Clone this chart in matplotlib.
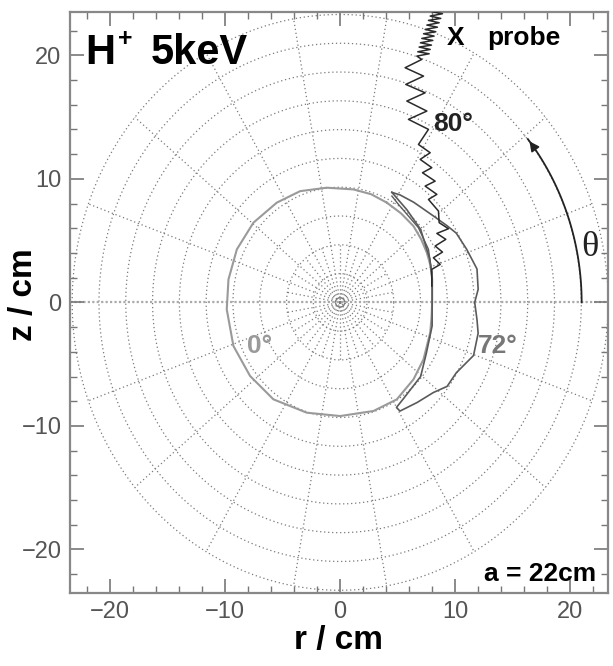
import numpy as np
import matplotlib.pyplot as plt

plt.rcParams['font.family'] = ['Liberation Sans', 'DejaVu Sans']

# --- orbit data (r, z in cm) ---
# 0 deg launch: nearly circular orbit
orbit0_r = [4.06, 5.3, 6.38, 7.05, 7.54, 7.85, 8.0, 8.0, 7.95, 7.83, 7.25, 6.38,
            4.93, 2.9, 0.0, -2.9, -5.8, -7.83, -9.28, -9.86, -9.71, -8.98,
            -7.54, -5.51, -3.48, -1.16, 1.16, 2.7, 4.06]
orbit0_z = [8.07, 7.2, 6.17, 5.1, 4.02, 3.0, 1.9, 0.0, -1.2, -2.45, -4.61, -6.23,
            -7.85, -8.79, -9.2, -8.93, -7.85, -5.96, -3.53, -0.57, 1.86, 4.29,
            6.45, 8.07, 9.0, 9.28, 9.14, 8.75, 8.07]

# 72 deg launch: banana orbit
orbit72_r = [4.5, 5.2, 6.4, 8.1, 9.3, 10.1, 11.0, 11.9, 12.0, 11.7, 11.9, 12.0,
             11.6, 10.1, 9.3, 8.1, 6.7, 5.2, 4.9, 5.5, 7.0, 7.5, 8.0, 8.0, 8.0,
             7.8, 7.0, 5.8, 4.5]
orbit72_z = [8.9, 8.7, 8.1, 7.0, 6.2, 5.6, 4.3, 2.7, 1.05, 0.0, -1.4, -2.5,
             -4.3, -5.7, -6.8, -7.3, -8.1, -8.8, -8.5, -7.8, -6.0, -4.1, -1.9,
             0.0, 1.9, 3.5, 5.9, 7.5, 8.9]
orbit72b_r = [4.5, 5.07, 6.81, 7.68, 7.97]
orbit72b_z = [8.6, 7.93, 6.04, 4.29, 2.4]

# 80 deg launch: escaping orbit to the probe
orbit80_r = [7.97, 7.97, 8.70, 8.11, 8.90, 8.26, 9.19, 8.41, 9.42, 8.61, 8.55,
             7.68, 8.41, 7.39, 8.26, 7.16, 7.97, 6.96, 7.83, 6.81, 7.68, 5.94,
             7.54, 5.80, 7.39, 5.71, 7.25, 5.65, 7.10, 6.67, 7.74, 6.75, 7.83,
             6.87, 7.94, 6.98, 8.06, 7.10, 8.17, 7.25, 8.32, 7.39, 8.46, 7.54,
             8.61, 7.68, 8.75, 7.83, 8.90, 7.97, 9.04]
orbit80_z = [1.32, 2.67, 3.07, 3.61, 4.07, 4.56, 5.10, 5.58, 5.96, 6.45, 7.39,
             8.33, 8.74, 9.41, 9.81, 10.49, 10.90, 11.57, 12.11, 12.78, 14.0,
             14.81, 15.48, 16.29, 16.96, 17.64, 18.31, 18.99, 19.66, 19.93,
             20.12, 20.28, 20.47, 20.66, 20.82, 21.01, 21.20, 21.36, 21.55,
             21.74, 21.90, 22.09, 22.27, 22.44, 22.63, 22.82, 22.98, 23.17,
             23.36, 23.52, 23.7]

# polar grid
ring_radii = [0.25, 0.45] + [2.33 * k for k in range(1, 11)]
spoke_angles = list(range(0, 360, 20))
inner_spoke_angles = list(range(10, 360, 20))
inner_spoke_len = 4.66
theta_arc_r = 21.0
theta_arc_end = 39.0

fig = plt.figure(figsize=(6.13, 6.66), dpi=100)
ax = fig.add_axes([0.114, 0.11, 0.878, 0.872])

grid_kw = dict(color='#7a7a7a', lw=0.9, ls=(0, (1, 2.2)), zorder=1)
t = np.linspace(0, 2 * np.pi, 400)
for rr in ring_radii:
    ax.plot(rr * np.cos(t), rr * np.sin(t), **grid_kw)
rmax = ring_radii[-1]
for a in spoke_angles:
    if a in (0, 180):
        continue
    ar = np.radians(a)
    ax.plot([0, rmax * np.cos(ar)], [0, rmax * np.sin(ar)], **grid_kw)
for a in inner_spoke_angles:
    ar = np.radians(a)
    ax.plot([0, inner_spoke_len * np.cos(ar)], [0, inner_spoke_len * np.sin(ar)], **grid_kw)
# mid-plane line
ax.axhline(0, color='#aaaaaa', lw=1.6, ls=(0, (1, 1)), zorder=1)

# orbits
ax.plot(orbit0_r, orbit0_z, color='#9a9a9a', lw=1.5, zorder=3, solid_joinstyle='round')
ax.plot(orbit72_r, orbit72_z, color='#5a5a5a', lw=1.2, zorder=4, solid_joinstyle='round')
ax.plot(orbit72b_r, orbit72b_z, color='#5a5a5a', lw=1.0, zorder=4)
ax.plot(orbit80_r, orbit80_z, color='#2a2a2a', lw=1.1, zorder=5, solid_joinstyle='round')

# theta arrow
ta = np.radians(np.linspace(0, theta_arc_end, 100))
ax.plot(theta_arc_r * np.cos(ta), theta_arc_r * np.sin(ta), color='#222222', lw=1.3, zorder=5)
ax.annotate('', xy=(theta_arc_r * np.cos(ta[-1]), theta_arc_r * np.sin(ta[-1])),
            xytext=(theta_arc_r * np.cos(ta[-6]), theta_arc_r * np.sin(ta[-6])),
            arrowprops=dict(arrowstyle='-|>', color='#222222', lw=1.3,
                            mutation_scale=14), zorder=6)
ax.text(21.7, 4.4, 'θ', family='Liberation Serif', fontsize=26, ha='center',
        va='center', color='#222222')

# labels
ax.text(-22.2, 19.3, 'H', fontsize=30, fontweight='bold', va='baseline')
ax.text(-18.7, 21.3, '+', fontsize=18, fontweight='bold', va='center', ha='center')
ax.text(-16.5, 19.3, '5keV', fontsize=30, fontweight='bold', va='baseline')
ax.text(10.0, 21.4, 'X', fontsize=19, fontweight='bold', va='center', ha='center')
ax.text(12.8, 21.4, 'probe', fontsize=19, fontweight='bold', va='center')
ax.text(8.1, 14.4, '80°', fontsize=19, fontweight='bold', va='center', color='#222222')
ax.text(-8.1, -3.5, '0°', fontsize=19, fontweight='bold', va='center', color='#9a9a9a')
ax.text(12.0, -3.5, '72°', fontsize=19, fontweight='bold', va='center', color='#777777')
ax.text(22.3, -22.0, 'a = 22cm', fontsize=19, fontweight='bold', va='center', ha='right')

ax.set_xlim(-23.5, 23.3)
ax.set_ylim(-23.5, 23.5)
ax.set_xticks([-20, -10, 0, 10, 20])
ax.set_yticks([-20, -10, 0, 10, 20])
ax.set_xticks(np.arange(-22, 23, 2), minor=True)
ax.set_yticks(np.arange(-22, 23, 2), minor=True)
ax.tick_params(which='major', direction='in', length=10, width=1.2, color='#777777',
               top=True, right=True, labelsize=17, labelcolor='#555555', pad=6)
ax.tick_params(which='minor', direction='in', length=5, width=1.0, color='#777777',
               top=True, right=True)
for s in ax.spines.values():
    s.set_color('#888888')
    s.set_linewidth(1.6)

ax.set_xlabel('r / cm', fontsize=24, fontweight='bold')
ax.set_ylabel('z / cm', fontsize=24, fontweight='bold')
ax.xaxis.set_label_coords(0.5, -0.056)
ax.yaxis.set_label_coords(-0.058, 0.513)

fig.savefig('out.png', dpi=100)
